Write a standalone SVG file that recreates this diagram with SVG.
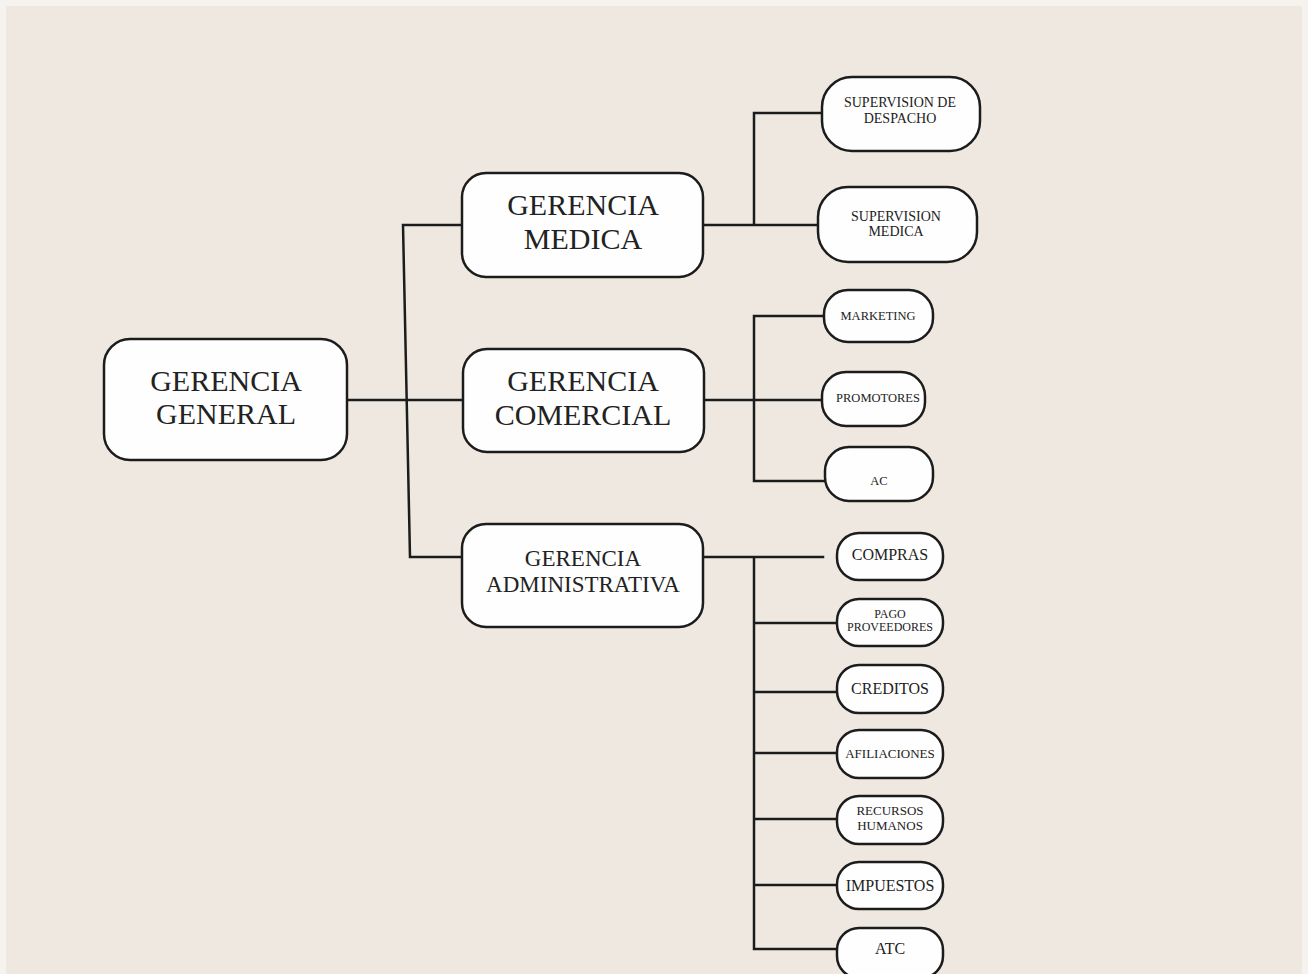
<svg xmlns="http://www.w3.org/2000/svg" width="1308" height="974" viewBox="0 0 1308 974">
<style>
.box{fill:#fefefe;stroke:#1c1c1c;stroke-width:2.5}
.ln{fill:none;stroke:#1c1c1c;stroke-width:2.5;stroke-linecap:square}
text{font-family:"Liberation Serif","Times New Roman",serif;fill:#222;text-anchor:middle}
.big{font-size:30px}
.mid{font-size:23px}
.s14{font-size:14px}
.s12{font-size:12.5px}
.s16{font-size:16px}
.s13{font-size:13px}
.s11{font-size:12px}
</style>
<rect x="0" y="0" width="1308" height="974" fill="#f6f3ef"/>
<rect x="6" y="6" width="1296" height="968" fill="#eee8e0"/>
<g id="connectors">
<path class="ln" d="M347 400 H463"/>
<path class="ln" d="M463 225 H403 L410 557 H462"/>
<path class="ln" d="M703 225 H818 M754 225 V113 H822"/>
<path class="ln" d="M704 400 H822 M824 316 H754 V481 H825"/>
<path class="ln" d="M703 557 H823 M754 557 V949 H838 M754 623 H838 M754 692 H838 M754 753 H838 M754 819 H838 M754 885 H838"/>
</g>
<g id="gerencia-general"><rect class="box" x="104" y="339" width="243" height="121" rx="26"/><text class="big" x="226" y="391">GERENCIA</text><text class="big" x="226" y="424">GENERAL</text></g>
<g id="gerencia-medica"><rect class="box" x="462" y="173" width="241" height="104" rx="24"/><text class="big" x="583" y="215">GERENCIA</text><text class="big" x="583" y="249">MEDICA</text></g>
<g id="gerencia-comercial"><rect class="box" x="463" y="349" width="241" height="103" rx="24"/><text class="big" x="583" y="391">GERENCIA</text><text class="big" x="583" y="425">COMERCIAL</text></g>
<g id="gerencia-administrativa"><rect class="box" x="462" y="524" width="241" height="103" rx="24"/><text class="mid" x="583" y="566">GERENCIA</text><text class="mid" x="583" y="592">ADMINISTRATIVA</text></g>
<g id="supervision-despacho"><rect class="box" x="822" y="77" width="158" height="74" rx="30"/><text class="s14" x="900" y="107">SUPERVISION DE</text><text class="s14" x="900" y="123">DESPACHO</text></g>
<g id="supervision-medica"><rect class="box" x="818" y="187" width="159" height="75" rx="30"/><text class="s14" x="896" y="221">SUPERVISION</text><text class="s14" x="896" y="236">MEDICA</text></g>
<g id="marketing"><rect class="box" x="824" y="290" width="109" height="52" rx="24"/><text class="s12" x="878" y="320">MARKETING</text></g>
<g id="promotores"><rect class="box" x="822" y="372" width="103" height="54" rx="24"/><text class="s12" x="878" y="402">PROMOTORES</text></g>
<g id="ac"><rect class="box" x="825" y="447" width="108" height="54" rx="24"/><text class="s12" x="879" y="485">AC</text></g>
<g id="compras"><rect class="box" x="837" y="533" width="106" height="47" rx="22"/><text class="s16" x="890" y="560">COMPRAS</text></g>
<g id="pago-proveedores"><rect class="box" x="837" y="599" width="106" height="47" rx="22"/><text class="s11" x="890" y="618">PAGO</text><text class="s11" x="890" y="631">PROVEEDORES</text></g>
<g id="creditos"><rect class="box" x="837" y="665" width="106" height="48" rx="22"/><text class="s16" x="890" y="694">CREDITOS</text></g>
<g id="afiliaciones"><rect class="box" x="837" y="730" width="106" height="48" rx="22"/><text class="s13" x="890" y="758">AFILIACIONES</text></g>
<g id="recursos-humanos"><rect class="box" x="837" y="796" width="106" height="48" rx="22"/><text class="s13" x="890" y="815">RECURSOS</text><text class="s13" x="890" y="830">HUMANOS</text></g>
<g id="impuestos"><rect class="box" x="837" y="862" width="106" height="47" rx="22"/><text class="s16" x="890" y="891">IMPUESTOS</text></g>
<g id="atc"><rect class="box" x="837" y="928" width="106" height="50" rx="22"/><text class="s16" x="890" y="954">ATC</text></g>
</svg>
